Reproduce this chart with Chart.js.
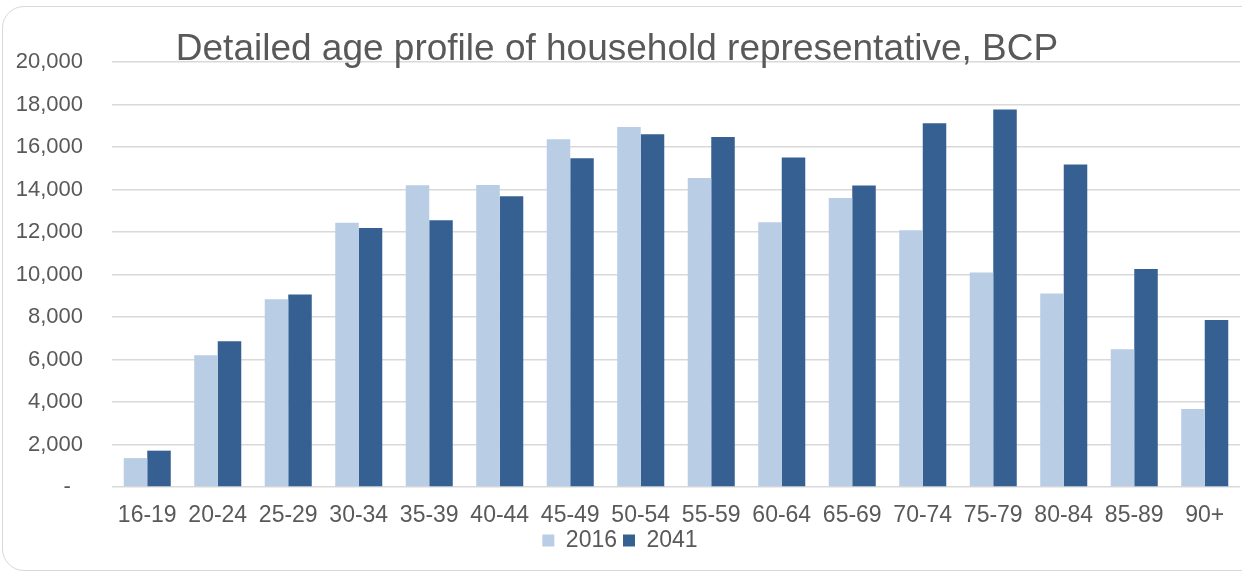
<!DOCTYPE html>
<html>
<head>
<meta charset="utf-8">
<script src="https://cdn.jsdelivr.net/npm/chart.js@4.4.0/dist/chart.umd.min.js"></script>
<style>
  html, body { margin: 0; padding: 0; background: #fff; }
  #wrap { position: relative; width: 1242px; height: 573px; overflow: hidden; }
  #frame {
    position: absolute; left: 2px; top: 6px; width: 1262px; height: 565px;
    border: 1.5px solid #d9d9d9; border-radius: 22px; box-sizing: border-box;
  }
  #chart { position: absolute; left: 0; top: 0; }
</style>
</head>
<body>
<div id="wrap">
  <div id="frame"></div>
  <canvas id="chart" width="1242" height="573"></canvas>
</div>
<script>
const titulo = "Detailed age profile of household representative, BCP";
const faixas = ["16-19", "20-24", "25-29", "30-34", "35-39", "40-44", "45-49", "50-54",
                "55-59", "60-64", "65-69", "70-74", "75-79", "80-84", "85-89", "90+"];
const valores2016 = [1360, 6200, 8840, 12430, 14200, 14210, 16360, 16940,
                     14540, 12460, 13600, 12080, 10090, 9110, 6480, 3670];
const valores2041 = [1710, 6860, 9060, 12190, 12550, 13680, 15470, 16600,
                     16470, 15510, 14190, 17120, 17770, 15180, 10260, 7860];
const ticksY = [0, 2000, 4000, 6000, 8000, 10000, 12000, 14000, 16000, 18000, 20000];

const fonte = "'Liberation Sans', Arial, sans-serif";
const cinzaTexto = "#595959";

// titulo desenhado por cima da grade, como no original
const pluginTitulo = {
  id: "tituloSobreposto",
  afterDraw(chart) {
    const ctx = chart.ctx;
    ctx.save();
    ctx.font = "37px " + fonte;
    ctx.fillStyle = cinzaTexto;
    ctx.textAlign = "center";
    ctx.textBaseline = "alphabetic";
    ctx.fillText(titulo, 617, 60);
    ctx.restore();
  }
};

const ctx = document.getElementById("chart").getContext("2d");

new Chart(ctx, {
  type: "bar",
  data: {
    labels: faixas,
    datasets: [
      {
        label: "2016",
        data: valores2016,
        backgroundColor: "#b9cde5",
        categoryPercentage: 0.667,
        barPercentage: 1.0
      },
      {
        label: "2041",
        data: valores2041,
        backgroundColor: "#366092",
        categoryPercentage: 0.667,
        barPercentage: 1.0
      }
    ]
  },
  options: {
    responsive: false,
    animation: false,
    layout: { padding: { left: 0, top: 62, right: 2, bottom: 11 } },
    plugins: {
      title: { display: false },
      tooltip: { enabled: false },
      legend: {
        position: "bottom",
        labels: {
          boxWidth: 12,
          boxHeight: 12,
          padding: 6,
          color: cinzaTexto,
          font: { family: fonte, size: 23, lineHeight: 1 }
        }
      }
    },
    scales: {
      x: {
        grid: { display: false, drawTicks: false },
        border: { display: false },
        ticks: {
          color: cinzaTexto,
          font: { family: fonte, size: 23, lineHeight: 1 },
          padding: 17,
          maxRotation: 0,
          autoSkip: false
        },
        afterFit(scale) { scale.height = 36; }
      },
      y: {
        min: 0,
        max: 20000,
        afterBuildTicks(scale) {
          scale.ticks = ticksY.map(v => ({ value: v }));
        },
        grid: { color: "#d9d9d9", lineWidth: 1.5, drawTicks: false },
        border: { display: false },
        ticks: {
          color: cinzaTexto,
          font: { family: fonte, size: 22 },
          padding: 29,
          callback: v => v === 0 ? "-  " : v.toLocaleString("en-US")
        },
        afterFit(scale) { scale.width = 112; }
      }
    }
  },
  plugins: [pluginTitulo]
});
</script>
</body>
</html>
